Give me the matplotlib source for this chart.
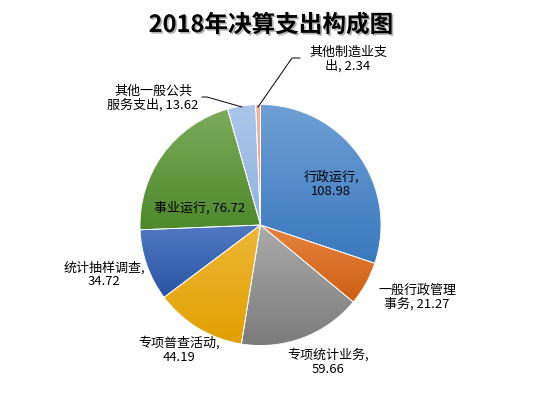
import numpy as np
import matplotlib
matplotlib.use("Agg")
import matplotlib.pyplot as plt
import matplotlib.patheffects as pe
from matplotlib.colors import to_rgb

plt.rcParams["font.family"] = ["Noto Sans CJK SC", "DejaVu Sans"]

# data
categories = ["行政运行", "一般行政管理事务", "专项统计业务", "专项普查活动",
              "统计抽样调查", "事业运行", "其他一般公共服务支出", "其他制造业支出"]
values = [108.98, 21.27, 59.66, 44.19, 34.72, 76.72, 13.62, 2.34]
label_texts = ["行政运行,\n108.98", "一般行政管理\n事务, 21.27", "专项统计业务,\n59.66",
               "专项普查活动,\n44.19", "统计抽样调查,\n34.72", "事业运行, 76.72",
               "其他一般公共\n服务支出, 13.62", "其他制造业支\n出, 2.34"]

# gradient colours per slice (top, bottom)
top_colors = ["#6F9FD5", "#E7833F", "#ABABAB", "#EEB737",
              "#5179C2", "#7AAB5A", "#AAC6EA", "#F5B29C"]
bottom_colors = ["#3A78BE", "#CC5F14", "#7C7C7C", "#E2A000",
                 "#2A54A4", "#4E892C", "#92B4E0", "#EE9C80"]

W, H = 544, 398
cx, cy, R = 260.5, H - 225, 120.5
# label centres in pixel coords (from top-left)
label_pos = [(331, 184), (417, 297), (328, 362), (179, 350),
             (104, 275), (200, 208), (153, 98), (348, 59)]

fig = plt.figure(figsize=(W / 100, H / 100), dpi=100)
ax = fig.add_axes([0, 0, 1, 1])

wedges, _ = ax.pie(values, startangle=90, counterclock=False, center=(cx, cy),
                   radius=R, colors=bottom_colors,
                   wedgeprops=dict(edgecolor="white", linewidth=0.6))

for w, c0, c1 in zip(wedges, top_colors, bottom_colors):
    ext = w.get_path().get_extents()
    t = np.linspace(0, 1, 64)[:, None]
    grad = (1 - t) * np.array(to_rgb(c0)) + t * np.array(to_rgb(c1))
    img = ax.imshow(grad[:, None, :], extent=(ext.x0, ext.x1, ext.y0, ext.y1),
                    origin="upper", aspect="auto", interpolation="bilinear", zorder=2)
    img.set_clip_path(w)
    w.set_facecolor("none")
    w.set_zorder(3)

for txt, (x, y) in zip(label_texts, label_pos):
    ax.text(x, H - y, txt, ha="center", va="center", fontsize=9.4,
            linespacing=1.05, color="black", zorder=5)

# leader lines
ax.plot([258, 292, 300], [H - 107, H - 58, H - 58], color="black", lw=0.7, zorder=4)
ax.plot([202, 207, 242], [H - 97, H - 97, H - 107], color="black", lw=0.7, zorder=4)

ax.text(271, H - 25, "2018年决算支出构成图", ha="center", va="center",
        fontsize=17, fontweight="bold", color="black",
        path_effects=[pe.SimplePatchShadow(offset=(1.2, -1.2), shadow_rgbFace="gray", alpha=0.6),
                      pe.Normal()])

ax.set_xlim(0, W)
ax.set_ylim(0, H)
ax.axis("off")

fig.savefig("out.png", dpi=100)
